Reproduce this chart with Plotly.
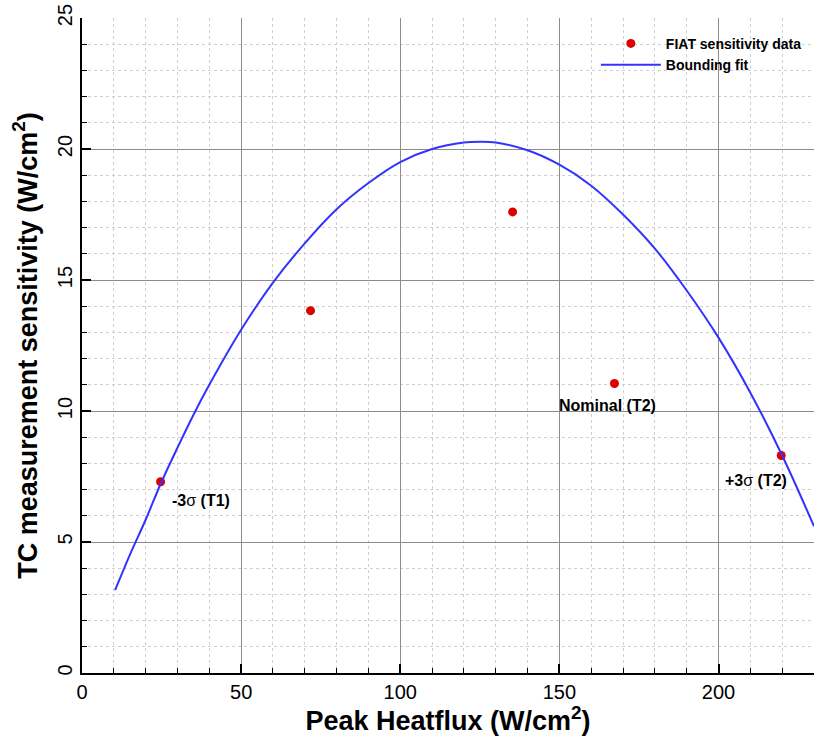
import plotly.graph_objects as go

# FIAT sensitivity data points
data_x = [24.7, 71.8, 135.3, 167.3, 219.7]
data_y = [7.3, 13.83, 17.6, 11.05, 8.3]

# Bounding fit curve
fit_x = [10.4, 15, 20, 25, 30, 35, 40, 50, 60, 70, 80, 90, 100, 110, 120, 125,
         130, 140, 150, 160, 170, 180, 190, 200, 210, 220, 230]
fit_y = [3.16, 4.5, 5.85, 7.3, 8.6, 9.85, 11.0, 13.1, 14.9, 16.4, 17.7, 18.7,
         19.5, 20.0, 20.25, 20.28, 20.25, 19.95, 19.4, 18.6, 17.5, 16.2, 14.6,
         12.8, 10.7, 8.3, 5.6]

# Annotations
ann_text = ["<b>-3</b>σ<b> (T1)</b>", "<b>Nominal (T2)</b>", "<b>+3</b>σ<b> (T2)</b>"]
ann_x = [27.7, 165.0, 222.0]
ann_y = [6.6, 10.2, 7.35]
ann_anchor = ["left", "center", "right"]

FONT = "Liberation Sans, Arial, Helvetica, sans-serif"

fig = go.Figure()
fig.add_trace(go.Scatter(x=data_x, y=data_y, mode="markers", name="FIAT sensitivity data",
                         marker=dict(color="#dd0000", size=9, line=dict(width=0))))
fig.add_trace(go.Scatter(x=fit_x, y=fit_y, mode="lines", name="Bounding fit",
                         line=dict(color="#3333ff", width=2, shape="spline")))

for t, x, y, a in zip(ann_text, ann_x, ann_y, ann_anchor):
    fig.add_annotation(x=x, y=y, text=t, showarrow=False, xanchor=a, yanchor="middle",
                       font=dict(family=FONT, size=16, color="black"))

fig.update_layout(
    width=821, height=736,
    margin=dict(l=82, r=7, t=18, b=63, autoexpand=False),
    plot_bgcolor="white", paper_bgcolor="white",
    font=dict(family=FONT, color="black"),
    legend=dict(x=0.702, y=0.985, xanchor="left", yanchor="top",
                bgcolor="rgba(0,0,0,0)", font=dict(family=FONT, size=14, weight="bold"),
                tracegroupgap=0, itemwidth=60),
    showlegend=True,
)

fig.update_xaxes(
    range=[0, 230], dtick=50, tick0=0, automargin=False,
    showline=True, linecolor="black", linewidth=2,
    ticks="inside", ticklen=9, tickwidth=2, tickcolor="black",
    showgrid=True, gridcolor="#8c8c8c", gridwidth=1,
    zeroline=False, ticklabeloverflow="allow",
    tickfont=dict(size=20, family=FONT),
    minor=dict(dtick=10, ticks="inside", ticklen=5, tickcolor="black", tickwidth=1,
               showgrid=True, gridcolor="#cfcfcf", griddash="dot", gridwidth=1),
    title=dict(text="<b>Peak Heatflux (W/cm<sup>2</sup>)</b>", font=dict(size=27, family=FONT), standoff=4),
)
fig.update_yaxes(
    range=[0, 25], dtick=5, tick0=0, automargin=False,
    showline=True, linecolor="black", linewidth=2,
    ticks="inside", ticklen=9, tickwidth=2, tickcolor="black",
    showgrid=True, gridcolor="#8c8c8c", gridwidth=1,
    zeroline=False, tickangle=-90, ticklabeloverflow="allow",
    tickfont=dict(size=20, family=FONT),
    minor=dict(dtick=1, ticks="inside", ticklen=5, tickcolor="black", tickwidth=1,
               showgrid=True, gridcolor="#cfcfcf", griddash="dot", gridwidth=1),
    title=dict(text="<b>TC measurement sensitivity (W/cm<sup>2</sup>)</b>", font=dict(size=27, family=FONT), standoff=9),
)

fig.write_html("out.html", config={"displayModeBar": False},
               post_script="document.body.style.margin='0';")
